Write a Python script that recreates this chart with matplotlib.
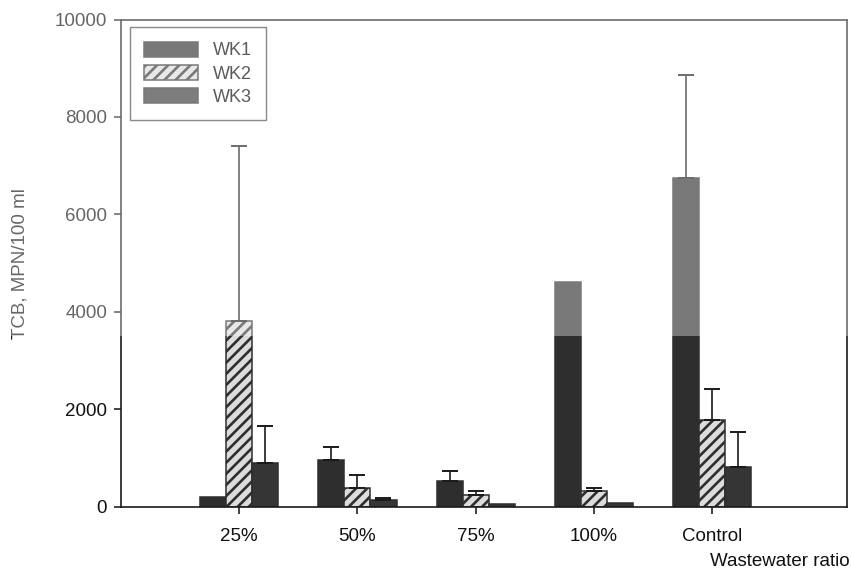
import matplotlib
matplotlib.use("Agg")
import matplotlib.pyplot as plt
import numpy as np
from matplotlib.patches import Rectangle

plt.rcParams['font.family'] = ['Liberation Sans', 'DejaVu Sans']
plt.rcParams['hatch.linewidth'] = 1.9

categories = ["25%", "50%", "75%", "100%", "Control"]
series = ["WK1", "WK2", "WK3"]

wk1_mean = [200, 950, 520, 4620, 6750]
wk1_err = [0, 280, 220, 0, 2110]
wk2_mean = [3810, 390, 235, 315, 1775]
wk2_err = [3590, 260, 95, 65, 650]
wk3_mean = [900, 130, 55, 80, 810]
wk3_err = [750, 55, 0, 0, 720]

means = [wk1_mean, wk2_mean, wk3_mean]
errs = [wk1_err, wk2_err, wk3_err]

dark = "#2e2e2e"
face = [dark, "#dcdcdc", "#353535"]
hatch = [None, "///", None]

fig = plt.figure(figsize=(8.51, 5.74), dpi=100)
ax = fig.add_axes([121 / 851, 1 - 506.7 / 574, (847 - 121) / 851, (506.7 - 19.5) / 574])

x = np.arange(1, len(categories) + 1)
width = 0.22
for i, (m, e) in enumerate(zip(means, errs)):
    pos = x + (i - 1) * width
    ax.bar(pos, m, width=width, color=face[i], edgecolor=dark, linewidth=1.1,
           hatch=hatch[i], label=series[i], zorder=2)
    lower = np.zeros(len(e))
    has_err = np.array(e) > 0
    ax.errorbar(pos[has_err], np.array(m)[has_err],
                yerr=[lower[has_err], np.array(e)[has_err]],
                fmt="none", ecolor="#1a1a1a", elinewidth=1.2, capsize=5.5,
                capthick=1.4, zorder=3)

ax.set_xlim(0, 6.14)
ax.set_ylim(0, 10000)
ax.set_yticks([0, 2000, 4000, 6000, 8000, 10000])
ax.set_xticks(x)
ax.set_xticklabels(categories)

for s in ax.spines.values():
    s.set_linewidth(1.2)
    s.set_color("#1a1a1a")

ax.tick_params(axis="both", direction="out", length=5, width=1.1, labelsize=13.5,
               colors="#111111")
ax.tick_params(axis="y", pad=5)
ax.tick_params(axis="x", pad=10)

ax.set_ylabel("TCB, MPN/100 ml", fontsize=13.5, labelpad=19, color="#111111")
fig.text(850 / 851, 1 - 562 / 574, "Wastewater ratio", ha="right", va="center",
         fontsize=13.5, color="#111111")

leg = ax.legend(loc="upper left", bbox_to_anchor=(0.012, 0.984), fontsize=13,
                frameon=True, fancybox=False, edgecolor="#1a1a1a",
                handlelength=3.0, handleheight=0.9, borderpad=0.8,
                labelspacing=0.3, borderaxespad=0)
leg.get_frame().set_linewidth(1.0)

# lighter upper portion of the page
fig.add_artist(Rectangle((0, 1 - 336 / 574), 1, 336 / 574,
                         transform=fig.transFigure, facecolor="white",
                         alpha=0.36, edgecolor="none", zorder=100))

fig.savefig("out.png", dpi=100)
